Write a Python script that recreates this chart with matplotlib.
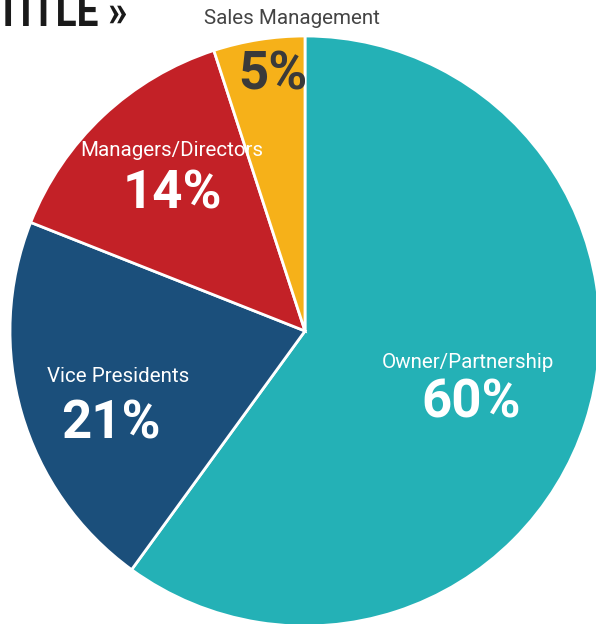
import matplotlib
matplotlib.use("Agg")
import matplotlib.pyplot as plt
from matplotlib.textpath import TextPath
from matplotlib.patches import PathPatch
from matplotlib.font_manager import FontProperties
from matplotlib.transforms import Affine2D

categories = ["Owner/Partnership", "Vice Presidents", "Managers/Directors", "Sales Management"]
values = [60, 21, 14, 5]
pct_labels = ["60%", "21%", "14%", "5%"]
colors = ["#24B1B6", "#1B4F7B", "#C32127", "#F6B119"]
title_text = "TITLE »"

W, H = 596, 624
fig = plt.figure(figsize=(W / 100, H / 100), dpi=100)
ax = fig.add_axes([0, 0, 1, 1])

cx, cy, r = 305, H - 331, 295
ax.pie(values, colors=colors, startangle=90, counterclock=False,
       center=(cx, cy), radius=r,
       wedgeprops=dict(edgecolor="white", linewidth=2))
ax.set_xlim(0, W)
ax.set_ylim(0, H)
ax.set_aspect("equal")
ax.axis("off")

fam = ["Roboto", "DejaVu Sans"]
name_pos = [(468, 362), (118, 376), (172, 150), (292, 18)]
pct_pos = [(471, 403), (111, 424), (172, 194), (273, 75)]
name_col = ["white", "white", "white", "#444444"]
pct_col = ["white", "white", "white", "#3a3a3a"]

for cat, p, npos, ppos, nc, pc in zip(categories, pct_labels, name_pos, pct_pos, name_col, pct_col):
    ax.text(npos[0], H - npos[1], cat, ha="center", va="center", fontsize=14.8,
            color=nc, family=fam)
    ax.text(ppos[0], H - ppos[1], p, ha="center", va="center", fontsize=38,
            color=pc, family=fam, fontweight="bold")

# condensed heavy title, partially clipped at the top like the reference
fp = FontProperties(family="Roboto", weight="bold")
tp = TextPath((0, 0), title_text, size=1, prop=fp)
ext = tp.get_extents()
x0, x1 = -3, 126
ybot, ytop = H - 26, H + 6
sx = (x1 - x0) / ext.width
sy = (ytop - ybot) / ext.height
tr = Affine2D().translate(-ext.x0, -ext.y0).scale(sx, sy).translate(x0, ybot)
ax.add_patch(PathPatch(tr.transform_path(tp), facecolor="#1a1a1a", edgecolor="none",
                       clip_on=True))

fig.savefig("out.png", dpi=100)
